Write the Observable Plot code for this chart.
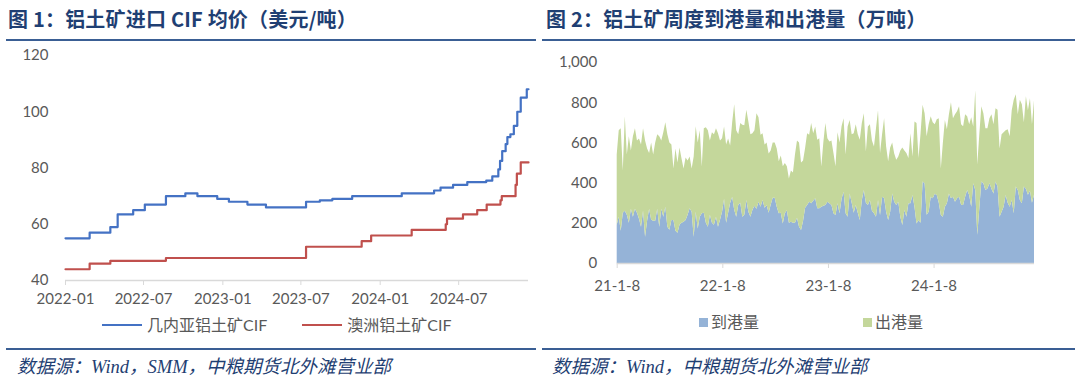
<!DOCTYPE html>
<html><head><meta charset="utf-8">
<script src="https://cdn.jsdelivr.net/npm/d3@7"></script>
<script src="https://cdn.jsdelivr.net/npm/@observablehq/plot@0.6"></script>
<style>
html,body{margin:0;padding:0;background:#fff;}
body{width:1080px;height:384px;overflow:hidden;position:relative;font-family:Lato,"Noto Sans CJK SC",sans-serif;}
.title{position:absolute;top:4px;font-family:"Noto Sans CJK SC",sans-serif;font-weight:700;font-size:20px;color:#1F3F73;white-space:nowrap;letter-spacing:0.2px;}
.rule{position:absolute;height:2px;background:#3A5E94;}
.chart{position:absolute;top:45px;}
.legend{position:absolute;font-family:Lato,"Noto Sans CJK SC",sans-serif;font-size:16px;color:#595959;white-space:nowrap;display:flex;align-items:center;line-height:1;}
.swline{display:inline-block;width:40px;height:2px;margin-right:5px;}
.swsq{display:inline-block;width:9px;height:9px;margin-right:3px;}
.caption{position:absolute;top:352px;font-family:"Liberation Serif","Noto Sans CJK SC",serif;font-style:italic;font-size:18.5px;color:#1F3F73;white-space:nowrap;}
svg g[aria-label="x-axis tick"]{stroke:#d9d9d9;}
</style>
</head><body>
<div class="title" style="left:8px">图 1：铝土矿进口 CIF 均价（美元/吨）</div>
<div class="rule" style="left:6px;width:530px;top:39px"></div>
<div class="title" style="left:546px">图 2：铝土矿周度到港量和出港量（万吨）</div>
<div class="rule" style="left:542px;width:533px;top:39px"></div>
<div id="left" class="chart" style="left:0px"></div>
<div id="right" class="chart" style="left:540px"></div>
<div id="legL" class="legend" style="left:102px;top:317px"></div>
<div id="legR" class="legend" style="left:699px;top:314px"></div>
<div class="rule" style="left:6px;width:530px;top:348px;height:1.5px"></div>
<div class="rule" style="left:542px;width:533px;top:348px;height:1.5px"></div>
<div class="caption" style="left:17px">数据源：Wind，SMM，中粮期货北外滩营业部</div>
<div class="caption" style="left:552px">数据源：Wind，中粮期货北外滩营业部</div>
<script>
// ---------- Figure 1: bauxite import CIF (USD/t), step series ----------
const seriesLeft = ["几内亚铝土矿CIF", "澳洲铝土矿CIF"];
const guineaDates = ["2022-01-01","2022-02-26","2022-04-15","2022-05-02","2022-06-07","2022-07-04","2022-08-22","2022-10-06","2022-11-03","2022-12-19","2023-01-15","2023-02-27","2023-04-11","2023-07-13","2023-08-14","2023-09-12","2023-10-28","2024-02-20","2024-05-05","2024-05-20","2024-06-18","2024-07-21","2024-09-03","2024-09-17","2024-10-01","2024-10-05","2024-10-10","2024-10-18","2024-10-22","2024-10-29","2024-11-06","2024-11-14","2024-11-22","2024-12-06","2024-12-10"];
const guineaPrice = [55,57,59,63.5,65,67,70,71,70,69,68,67,66,68,68.5,69,70,71,72,73,74,75,75.5,77,79.5,82.5,86,88.5,91,92,95,100,105,108,108];
const ausDates = ["2022-01-01","2022-02-26","2022-04-15","2022-08-22","2023-07-13","2023-11-19","2023-12-11","2024-03-14","2024-06-01","2024-06-04","2024-07-11","2024-08-13","2024-09-04","2024-10-06","2024-10-09","2024-11-10","2024-11-13","2024-11-22","2024-12-10"];
const ausPrice = [44,46,47,48,52,54,56,58,60,62,63.5,65,67,68.5,70,74,78,82,82];
const leftXTicks = ["2022-01","2022-07","2023-01","2023-07","2024-01","2024-07"];
const leftYTicks = [40,60,80,100,120];
const leftColors = ["#4472C4","#C0504D"];

// ---------- Figure 2: weekly port arrivals / departures (10k t) ----------
const seriesRight = ["到港量", "出港量"];
const firstWeek = "2021-01-08";
const arrival = [
  190,230,160,250,260,240,200,270,230,270,250,220,180,260,130,210,270,215,210,210,270,180,270,230,280,180,165,214,214,160,150,190,200,205,214,240,272,255,131,255,172,230,247,250,200,180,240,200,190,
  230,180,215,255,320,200,250,300,330,265,230,290,300,230,240,313,255,230,265,285,270,305,280,313,275,288,250,290,325,325,280,247,250,197,247,262,200,205,200,200,225,180,164,210,275,288,305,297,310,322,
  272,272,280,285,288,305,297,288,247,239,297,247,320,355,247,230,346,300,250,288,250,214,313,363,300,288,313,260,247,230,313,239,330,322,255,214,255,346,305,288,305,230,189,264,230,297,297,338,280,197,
  214,200,405,397,240,255,330,322,345,338,300,239,230,280,297,346,322,330,305,322,330,290,288,330,363,338,280,397,363,140,272,405,397,363,371,397,370,346,405,380,230,255,280,338,300,280,313,247,380,363,313,297,380,370,340,360,300,340
];
const departure = [
  350,430,510,210,470,300,430,290,400,400,360,400,410,410,480,360,277,385,330,390,370,450,340,420,420,460,435,376,256,410,350,385,320,265,311,270,258,215,399,425,428,430,233,420,475,480,370,450,450,
  441,466,395,366,359,390,370,285,370,525,430,350,396,458,445,449,449,410,381,375,475,420,358,333,315,312,295,270,275,275,290,259,285,284,250,219,220,255,250,340,385,420,336,300,297,358,333,399,336,357,
  341,349,200,315,408,316,308,322,300,242,353,353,360,365,293,449,366,340,396,402,390,399,383,382,255,391,377,350,333,441,447,308,310,398,325,292,320,254,240,226,225,330,386,296,317,225,349,192,424,499,
  308,446,382,348,390,435,400,378,345,377,420,231,367,432,368,394,478,390,435,433,450,400,392,410,367,352,445,282,497,350,368,375,348,307,299,323,370,344,365,382,340,385,370,322,365,350,447,565,460,377,499,493,320,460,420,460,390,470
];
const rightXTicks = ["21-1-8","22-1-8","23-1-8","24-1-8"];
const rightYTicks = [0,200,400,600,800,1000];
const rightColors = ["#95B3D7","#C4D79B"];

// ---------- build tables ----------
const pd = d3.utcParse("%Y-%m-%d");
const lineRows = [];
guineaDates.forEach((d,i)=>lineRows.push({date:pd(d), value:guineaPrice[i], series:seriesLeft[0]}));
ausDates.forEach((d,i)=>lineRows.push({date:pd(d), value:ausPrice[i], series:seriesLeft[1]}));
const leftStart = pd(guineaDates[0]);
const leftEnd = pd(guineaDates[guineaDates.length-1]);

const w0 = pd(firstWeek);
const areaRows = [];
arrival.forEach((v,i)=>{
  const date = d3.utcDay.offset(w0, 7*i);
  areaRows.push({date, value:v, series:seriesRight[0]});
  areaRows.push({date, value:departure[i], series:seriesRight[1]});
});
const rightEnd = d3.utcDay.offset(w0, 7*(arrival.length-1));

const baseStyle = {fontFamily:"Lato, 'Noto Sans CJK SC', sans-serif", fontSize:"15px", color:"#595959", background:"transparent", overflow:"visible"};

const left = Plot.plot({
  width:540, height:270, marginLeft:65, marginRight:12, marginTop:10, marginBottom:35,
  style: baseStyle,
  x:{type:"utc", domain:[leftStart, leftEnd], ticks: leftXTicks.map(d3.utcParse("%Y-%m")), tickFormat:d3.utcFormat("%Y-%m"), tickSize:5, tickPadding:8, label:null},
  y:{domain:[40,120], ticks:leftYTicks, tickSize:0, tickPadding:17, label:null},
  color:{domain:seriesLeft, range:leftColors},
  marks:[
    Plot.ruleY([40], {stroke:"#d9d9d9", strokeWidth:1.3}),
    Plot.line(lineRows, {x:"date", y:"value", z:"series", stroke:"series", curve:"step-after", strokeWidth:2.2})
  ]
});
document.getElementById("left").appendChild(left);

const right = Plot.plot({
  width:540, height:270, marginLeft:76.7, marginRight:46, marginTop:17, marginBottom:52,
  style: baseStyle,
  x:{type:"utc", domain:[w0, rightEnd], ticks: rightXTicks.map(d3.utcParse("%y-%m-%d")), tickFormat:d3.utcFormat("%y-%-m-%-d"), tickSize:5, tickPadding:12, label:null},
  y:{domain:[0,1000], ticks:rightYTicks, tickFormat:d3.format(","), tickSize:0, tickPadding:20, label:null},
  color:{domain:seriesRight, range:rightColors},
  marks:[
    Plot.areaY(areaRows, {x:"date", y:"value", fill:"series", order:seriesRight}),
    Plot.ruleY([0], {stroke:"#d9d9d9", strokeWidth:1.3})
  ]
});
document.getElementById("right").appendChild(right);

// legends
const legL = document.getElementById("legL");
seriesLeft.forEach((s,i)=>{
  const item = document.createElement("span");
  item.style.cssText = "display:inline-flex;align-items:center;margin-right:" + (i===0?"35px":"0");
  item.innerHTML = `<span class="swline" style="background:${leftColors[i]}"></span>${s}`;
  legL.appendChild(item);
});
const legR = document.getElementById("legR");
seriesRight.forEach((s,i)=>{
  const item = document.createElement("span");
  item.style.cssText = "display:inline-flex;align-items:center;margin-right:" + (i===0?"104px":"0");
  item.innerHTML = `<span class="swsq" style="background:${rightColors[i]}"></span>${s}`;
  legR.appendChild(item);
});
</script>
</body></html>
